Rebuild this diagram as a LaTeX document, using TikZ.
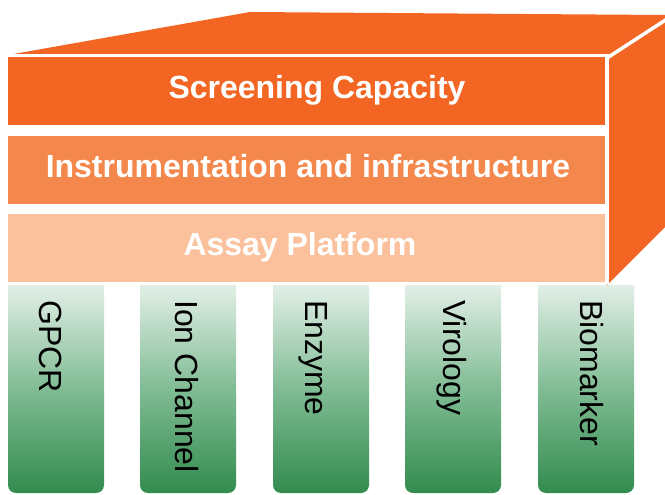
\documentclass[tikz,border=0pt]{standalone}
\usepackage{fontspec}
\setmainfont{Liberation Sans}
\definecolor{orA}{RGB}{242,101,34}
\definecolor{orB}{RGB}{244,135,75}
\definecolor{orC}{RGB}{251,193,157}
\definecolor{grTop}{RGB}{226,239,231}
\definecolor{grMid}{RGB}{128,188,148}
\definecolor{grBot}{RGB}{50,139,78}
\begin{document}
\begin{tikzpicture}[x=1pt,y=1pt,
  hdr/.style={text=white,font=\fontsize{32}{38}\selectfont\bfseries,inner sep=0pt,anchor=base},
  coltxt/.style={text=black,font=\fontsize{32}{38}\selectfont,inner sep=0pt,rotate=-90,anchor=base west},
  colshade/.style={top color=grTop,bottom color=grBot,middle color=grMid}]
\useasboundingbox (0,0) rectangle (665,-495);
% cube top and right faces
\fill[orA] (8,-55) -- (250,-12) -- (665,-15) -- (665,-227) -- (607,-285) -- (607,-55) -- cycle;
\draw[white,line width=3.5pt] (6,-56) -- (607,-56) -- (607,-284);
\draw[white,line width=3.5pt] (607,-58) -- (667,-19);
% front layers
\fill[orA] (8,-57) rectangle (605,-125);
\fill[orB] (8,-136) rectangle (605,-204);
\fill[orC] (8,-214) rectangle (605,-282);
\node[hdr] (sc) at (317,-99) {Screening Capacity};
\node[hdr] (ii) at (308,-177) {Instrumentation and infrastructure};
\node[hdr] (ap) at (300,-255) {Assay Platform};
% columns
\foreach \x/\n in {8/c1,140/c2,273/c3,405/c4,538/c5}{
  \shade[colshade] (\x,-285) -- (\x,-485) arc (180:270:8) -- ({\x+88},-493) arc (270:360:8) -- ({\x+96},-285) -- cycle;
}
\node[coltxt] (gpcr) at (39,-300) {GPCR};
\node[coltxt] (ion) at (175,-300) {Ion Channel};
\node[coltxt] (enz) at (305,-300) {Enzyme};
\node[coltxt] (vir) at (443,-300) {Virology};
\node[coltxt] (bio) at (580,-300) {Biomarker};
\end{tikzpicture}
\end{document}
